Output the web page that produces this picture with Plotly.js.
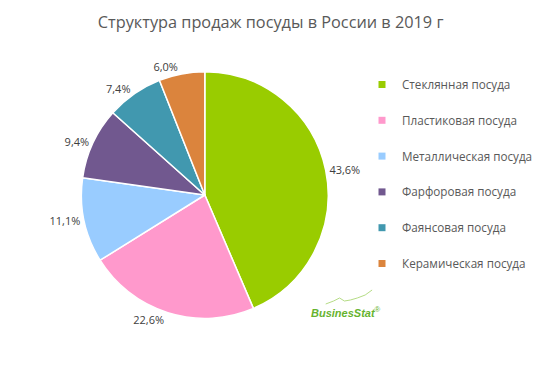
<!DOCTYPE html>
<html>
<head>
<meta charset="utf-8">
<script src="https://cdn.plot.ly/plotly-3.0.1.min.js"></script>
<style>html,body{margin:0;padding:0;background:#fff;}#chart{width:538px;height:370px;}</style>
</head>
<body>
<div id="chart"></div>
<script>
const categories = ["Стеклянная посуда", "Пластиковая посуда", "Металлическая посуда", "Фарфоровая посуда", "Фаянсовая посуда", "Керамическая посуда"];
const shares = [43.6, 22.6, 11.1, 9.4, 7.4, 6.0];
const valueLabels = ["43,6%", "22,6%", "11,1%", "9,4%", "7,4%", "6,0%"];
const colors = ["#99cc00", "#ff99cc", "#99ccff", "#71588f", "#4198af", "#db843d"];

const FONT = "Open Sans, Noto Sans, sans-serif";

const pie = {
  type: "pie",
  values: shares,
  labels: categories,
  text: valueLabels,
  textinfo: "text",
  textposition: "outside",
  sort: false,
  direction: "clockwise",
  rotation: 0,
  marker: {colors: colors, line: {color: "#ffffff", width: 1.5}},
  outsidetextfont: {family: FONT, size: 11, color: "#404040"},
  showlegend: false,
  hoverinfo: "label+text",
  domain: {x: [82.5/538, 332.5/538], y: [1 - 320/370, 1 - 70/370]}
};

const legendTraces = categories.map((c, i) => ({
  type: "scatter",
  mode: "markers",
  x: [null], y: [null],
  name: c,
  legendgroup: "g" + i,
  marker: {symbol: "square", size: 7, color: colors[i]},
  showlegend: true,
  hoverinfo: "skip"
}));

const layout = {
  width: 538, height: 370,
  margin: {l: 0, r: 0, t: 0, b: 0},
  paper_bgcolor: "#ffffff",
  plot_bgcolor: "#ffffff",
  title: {text: "Структура продаж посуды в России в 2019 г", font: {family: FONT, size: 16.3, color: "#595959"}, x: 0.503, xanchor: "center", y: 1 - 22/370, yanchor: "middle"},
  xaxis: {visible: false},
  yaxis: {visible: false},
  legend: {x: 367/538, y: 1 - 70/370, xanchor: "left", yanchor: "top", font: {family: FONT, size: 11.7, color: "#595959"}, tracegroupgap: 16.8, traceorder: "grouped", bgcolor: "rgba(0,0,0,0)", itemwidth: 30},
  showlegend: true,
  annotations: [{
    xref: "paper", yref: "paper", x: 313/538, y: 1 - 312/370, xanchor: "left", yanchor: "middle",
    text: "<b><i>BusinesStat</i></b><sup>®</sup>", showarrow: false,
    font: {family: "Liberation Sans, Arial, sans-serif", size: 11, color: "#66b32e"}
  }],
  shapes: [{
    type: "path", xref: "paper", yref: "paper",
    path: "M " + (330/538) + "," + (1-304/370) + " L " + (338/538) + "," + (1-301/370) + " L " + (344/538) + "," + (1-298/370) + " L " + (349/538) + "," + (1-301/370) + " L " + (355/538) + "," + (1-300/370) + " L " + (362/538) + "," + (1-298/370) + " L " + (370/538) + "," + (1-295/370) + " L " + (377/538) + "," + (1-290/370),
    line: {color: "#b5dc85", width: 1}
  }]
};

Plotly.newPlot("chart", [pie].concat(legendTraces), layout, {displayModeBar: false, staticPlot: true});
</script>
</body>
</html>
